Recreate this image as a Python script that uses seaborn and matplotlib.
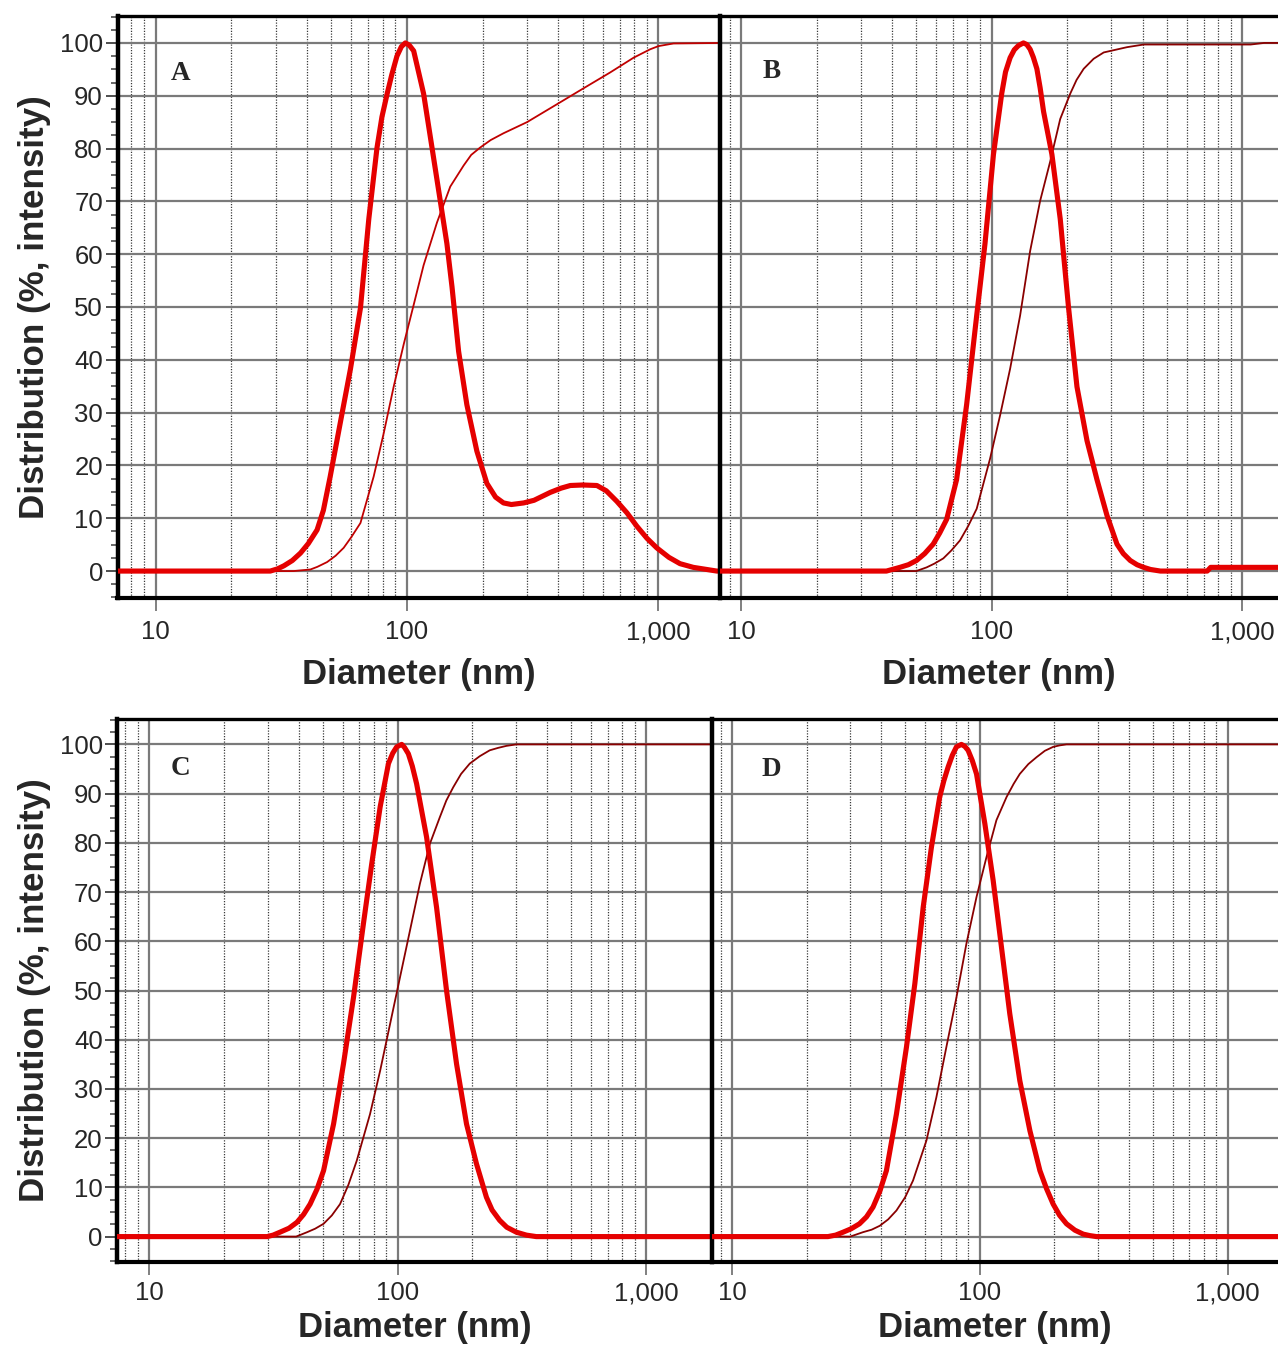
import numpy as np
import seaborn as sns
import matplotlib.pyplot as plt
from matplotlib.ticker import FixedLocator, LogLocator, MultipleLocator, FuncFormatter, NullFormatter

# ---- data (diameter in nm, distribution in %) ----
# panel A
a_size = [7.0, 28.6, 30.5, 32.4, 35.0, 37.7, 40.5, 43.9, 46.5, 49.5, 54.3, 59.6, 65.3, 70.5,
          76.0, 79.5, 83.4, 87.0, 91.2, 95.0, 98.5, 102.0, 106.3, 116.4, 125.7, 135.6, 144.1,
          151, 160.4, 173, 189.6, 207.8, 225, 242, 260, 291, 320, 371.5, 410, 446, 500, 569,
          620, 683, 750, 820, 900, 984, 1100, 1218, 1376, 1706, 1800]
a_intensity = [0, 0, 0.4, 1.0, 2.0, 3.4, 5.2, 7.8, 11.5, 17.9, 28.1, 38.3, 49.8, 66.7,
               80.2, 86.0, 90.4, 94.0, 97.5, 99.3, 100, 99.6, 98.5, 90.4, 80.2, 70.1, 62.0,
               53.8, 41.6, 31.5, 22.7, 16.6, 14.0, 12.9, 12.6, 12.9, 13.4, 14.9, 15.7, 16.2,
               16.3, 16.2, 15.2, 13.2, 11.0, 8.5, 6.2, 4.4, 2.6, 1.4, 0.7, 0, 0]
a_cum_size = [7.0, 35.4, 41.3, 44.0, 48.1, 52.0, 56, 60.0, 65.3, 73.7, 80.8, 88.5, 97.1,
              106.3, 116.4, 131.6, 148.6, 168, 180, 195.5, 215, 242, 300, 395, 503, 642, 796,
              927, 1000, 1148, 1800]
a_cum = [0, 0, 0.3, 0.8, 1.7, 2.9, 4.4, 6.4, 9.1, 17.9, 26.1, 34.9, 43.0, 50.4, 57.9, 66.0,
         72.8, 76.8, 78.8, 80.2, 81.6, 82.9, 85.0, 88.4, 91.4, 94.4, 97.2, 98.8, 99.4, 99.9,
         100]

# panel B
b_size = [8.0, 38.0, 43.0, 46.5, 50.1, 54.0, 58.4, 62.0, 66.1, 72.4, 79.4, 87.1, 94.0, 101.6,
          109.6, 113.5, 118.4, 123.0, 127.8, 133.8, 138.0, 142.3, 146.5, 151.4, 156.0, 161.0,
          173.8, 187.6, 202.6, 218.8, 239.9, 263, 288.4, 316, 335, 357, 380, 404, 430, 471,
          724, 747, 1400]
b_intensity = [0, 0, 0.7, 1.2, 2.0, 3.3, 5.1, 7.2, 9.8, 17.3, 31.5, 48.4, 62.0, 78.9, 90.4,
               94.5, 97.2, 98.7, 99.5, 100, 99.7, 98.8, 97.3, 95.1, 91.5, 87.0, 78.9, 66.7,
               49.8, 34.9, 24.7, 17.3, 10.5, 5.1, 3.3, 2.0, 1.2, 0.7, 0.3, 0, 0, 0.7, 0.7]
b_cum_size = [8.0, 50, 55, 59, 64.1, 69, 74.7, 80.5, 87.1, 98.5, 108, 118.4, 129.8, 142.3,
              156, 171, 187.6, 205.7, 218, 232.7, 255, 279.8, 346.7, 404, 1079, 1221, 1400]
b_cum = [0, 0, 0.7, 1.4, 2.4, 3.9, 5.8, 8.5, 11.8, 21.3, 29.5, 38.3, 48.4, 60.6, 70.1, 77.5,
         85.6, 90.4, 93.0, 95.1, 97.0, 98.2, 99.2, 99.7, 99.7, 100, 100]

# panel C
c_size = [7.4, 29.8, 31.5, 33.6, 36.5, 39.3, 41.8, 44.4, 47.3, 50.3, 55.2, 60.5, 66.4, 72.8,
          78.6, 85.0, 91.8, 95.5, 99.1, 103.8, 106.5, 110.4, 114.5, 119.2, 130.7, 143.4,
          157.3, 172.6, 189.3, 207.6, 227.7, 240, 257.5, 275, 300.4, 330, 361.5, 1850]
c_intensity = [0, 0, 0.3, 0.9, 1.7, 2.9, 4.5, 6.6, 9.6, 13.4, 22.9, 35.1, 48.6, 63.6, 75.7,
               87.3, 96.1, 98.2, 99.5, 100, 99.4, 98.1, 95.6, 92.0, 81.2, 66.9, 50.0, 35.1,
               22.9, 14.8, 8.0, 5.4, 3.3, 1.9, 0.9, 0.3, 0, 0]
c_cum_size = [7.4, 39, 43.2, 46.5, 50.3, 54.3, 58.6, 63.3, 68.4, 77.4, 85, 93.2, 102.2, 112.1,
              122.9, 134.8, 147.8, 157, 167.4, 180, 195.1, 214, 234.8, 254, 274, 300.4, 1850]
c_cum = [0, 0, 0.9, 1.6, 2.6, 4.3, 6.6, 10.5, 15.4, 24.9, 33.7, 43.2, 52.7, 62.2, 71.7,
         79.8, 85.2, 88.6, 91.3, 94.0, 96.1, 97.6, 98.8, 99.3, 99.7, 100, 100]

# panel D
d_size = [8.2, 24.4, 26.2, 28.1, 30.3, 32.7, 34.9, 37.1, 39.5, 42.0, 46.1, 50.6, 54.7, 59.1,
          63.8, 68.9, 71.6, 74.5, 77.5, 80.5, 84.3, 87.0, 89.7, 93.3, 97.0, 104.8, 113.2,
          122.3, 132.1, 145.0, 159.3, 174.8, 186, 197.7, 210, 223.8, 242, 261.4, 278, 295.7,
          1600]
d_intensity = [0, 0, 0.3, 0.9, 1.6, 2.6, 4.0, 6.0, 9.2, 13.4, 24.9, 38.5, 51.4, 66.9, 79.1,
               89.3, 92.6, 95.4, 97.8, 99.5, 100, 99.6, 98.8, 96.7, 94.0, 83.9, 72.4, 58.8,
               45.3, 31.7, 21.5, 13.4, 9.7, 6.6, 4.3, 2.6, 1.3, 0.5, 0.2, 0, 0]
d_cum_size = [8.2, 30, 33.8, 36.6, 39.5, 42.7, 46.1, 50, 53.8, 60.9, 66.8, 73.3, 80.5, 88.3,
              97.0, 106.4, 116.7, 128.2, 137, 145, 157, 169.4, 183, 197.7, 210, 223.8, 1600]
d_cum = [0, 0, 0.9, 1.4, 2.2, 3.5, 5.3, 8.0, 11.4, 19.5, 28.3, 38.5, 48.6, 59.5, 69.0, 77.1,
         84.6, 89.3, 92.0, 94.0, 96.0, 97.4, 98.7, 99.5, 99.8, 100, 100]

panel_letters = ["A", "B", "C", "D"]
x_ticks = [10, 100, 1000]
y_ticks = list(range(0, 101, 10))

sns.set_style("white")
plt.rcParams["font.family"] = ["Liberation Sans", "DejaVu Sans"]

RED = "#e50000"
fig = plt.figure(figsize=(12.78, 13.47), dpi=100)

W, H = 1278, 1347


def add_ax(left, right, top, bottom):
    return fig.add_axes([left / W, 1 - bottom / H, (right - left) / W, (bottom - top) / H])


def draw_panel(ax, size, inten, cum_size, cum, xlim, letter, letter_pos, cum_color,
               show_y, top_row):
    ax.set_xscale("log")
    ax.set_axisbelow(True)
    sns.lineplot(x=cum_size, y=cum, ax=ax, color=cum_color, linewidth=1.3,
                 estimator=None, sort=False, zorder=3)
    sns.lineplot(x=size, y=inten, ax=ax, color=RED, linewidth=3.7,
                 estimator=None, sort=False, zorder=4)
    ax.set_xlim(*xlim)
    ax.set_ylim(-5.1, 105.1)

    ax.xaxis.set_major_locator(FixedLocator(x_ticks))
    ax.xaxis.set_major_formatter(FuncFormatter(lambda v, p: f"{int(round(v)):,}"))
    ax.xaxis.set_minor_locator(LogLocator(base=10, subs=np.arange(2, 10)))
    ax.xaxis.set_minor_formatter(NullFormatter())
    ax.set_yticks(y_ticks)
    ax.yaxis.set_minor_locator(MultipleLocator(2.5))

    ax.grid(True, which="major", color="#7a7a7a", linewidth=1.6)
    ax.grid(True, which="minor", axis="x", color="#3a3a3a", linewidth=0.9,
            linestyle=(0, (1, 1.2)))

    pad = 7 if top_row else 5
    ax.tick_params(axis="x", which="major", direction="out", length=9, width=1.4,
                   color="#808080", labelsize=18.5, pad=pad, bottom=True)
    ax.tick_params(axis="x", which="minor", length=0)
    if show_y:
        ax.tick_params(axis="y", which="major", direction="out", length=8.5, width=1.3,
                       color="#404040", labelsize=18.5, pad=2, left=True)
        ax.tick_params(axis="y", which="minor", direction="out", length=5, width=1.1,
                       color="#404040", left=True)
        ax.set_ylabel("Distribution (%, intensity)", fontsize=25.2, fontweight="bold",
                      labelpad=6)
    else:
        ax.tick_params(axis="y", which="both", length=0, labelleft=False)
        ax.set_ylabel("")

    ax.set_xlabel("Diameter (nm)", fontsize=25, fontweight="bold",
                  labelpad=10 if top_row else 4)

    for side in ["left", "top", "bottom"]:
        ax.spines[side].set_visible(True)
        ax.spines[side].set_color("black")
    ax.spines["left"].set_linewidth(3.2)
    ax.spines["top"].set_linewidth(2.4)
    ax.spines["bottom"].set_linewidth(3.0)
    ax.spines["right"].set_visible(False)

    ax.text(letter_pos[0], letter_pos[1], letter, transform=ax.transAxes,
            ha="center", va="center", fontsize=19.5, fontweight="bold",
            family=["Liberation Serif", "DejaVu Serif"], zorder=5)


ax_a = add_ax(117.5, 719.6, 16, 598)
ax_b = add_ax(720, 1278, 16, 598)
ax_c = add_ax(117.3, 711.6, 719.3, 1261.7)
ax_d = add_ax(711.6, 1278, 719.3, 1261.7)

draw_panel(ax_a, a_size, a_intensity, a_cum_size, a_cum, (7.06, 1750),
           panel_letters[0], (0.104, 0.902), "#c00000", True, True)
draw_panel(ax_b, b_size, b_intensity, b_cum_size, b_cum, (8.24, 1387),
           panel_letters[1], (0.093, 0.904), "#8a0000", False, True)
draw_panel(ax_c, c_size, c_intensity, c_cum_size, c_cum, (7.43, 1837),
           panel_letters[2], (0.1055, 0.910), "#8a0000", True, False)
draw_panel(ax_d, d_size, d_intensity, d_cum_size, d_cum, (8.28, 1596),
           panel_letters[3], (0.105, 0.908), "#8a0000", False, False)

fig.savefig("out.png", dpi=100, facecolor="white")
